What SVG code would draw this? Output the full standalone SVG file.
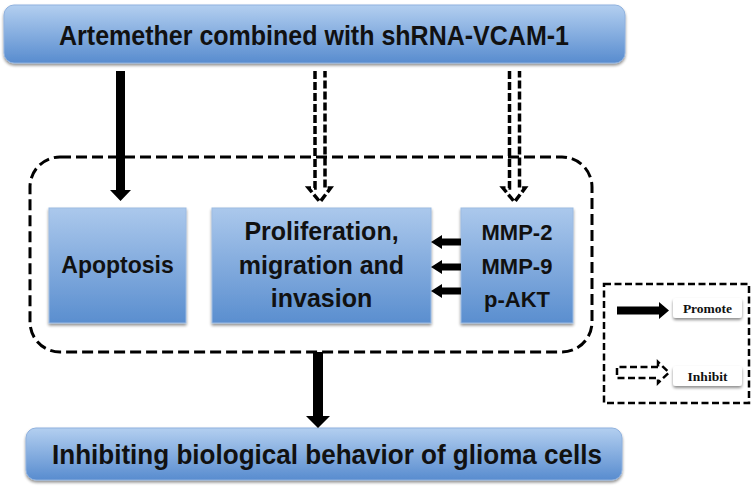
<svg xmlns="http://www.w3.org/2000/svg" width="755" height="488" viewBox="0 0 755 488">
  <defs>
    <linearGradient id="blueGrad" x1="0" y1="0" x2="0" y2="1">
      <stop offset="0" stop-color="#b3cff0"/>
      <stop offset="1" stop-color="#588ccf"/>
    </linearGradient>
    <linearGradient id="boxGrad" x1="0" y1="0" x2="0" y2="1">
      <stop offset="0" stop-color="#abc8ec"/>
      <stop offset="1" stop-color="#5a8ecf"/>
    </linearGradient>
    <filter id="shadow" x="-10%" y="-20%" width="120%" height="150%">
      <feGaussianBlur in="SourceAlpha" stdDeviation="1.5"/>
      <feOffset dx="0" dy="2" result="b"/>
      <feComponentTransfer><feFuncA type="linear" slope="0.45"/></feComponentTransfer>
      <feMerge><feMergeNode/><feMergeNode in="SourceGraphic"/></feMerge>
    </filter>
  </defs>
  <style>
    .big { fill: url(#blueGrad); stroke: #8fb1de; stroke-width: 1; }
    .box { fill: url(#boxGrad); stroke: #9dbbe2; stroke-width: 1; }
    .t { font-family: "Liberation Sans", Arial, sans-serif; font-weight: bold; fill: #111; text-anchor: middle; }
    .lt { font-family: "Liberation Serif", "Times New Roman", serif; font-weight: bold; fill: #111; text-anchor: middle; font-size: 13.5px; }
    .solid { fill: #000; }
    .dash { fill: none; stroke: #000; stroke-width: 3.5; stroke-dasharray: 8 3; }
    .frame { fill: none; stroke: #000; stroke-width: 3; stroke-dasharray: 11 5; }
    .lframe { fill: none; stroke: #000; stroke-width: 2.5; stroke-dasharray: 7 3.5; }
    .label { fill: #fff; }
  </style>

  <g id="frame-group">
    <rect class="frame" x="30" y="157" width="562" height="195" rx="30" ry="30"/>
  </g>

  <g id="top-node">
    <rect class="big" x="4" y="5" width="621" height="58" rx="10" ry="10" filter="url(#shadow)"/>
    <text class="t" x="314" y="45" font-size="27" textLength="510" lengthAdjust="spacingAndGlyphs">Artemether combined with shRNA-VCAM-1</text>
  </g>

  <g id="apoptosis">
    <rect class="box" x="49" y="208" width="137" height="115" filter="url(#shadow)"/>
    <text class="t" x="117.5" y="273" font-size="23">Apoptosis</text>
  </g>

  <g id="proliferation">
    <rect class="box" x="212" y="208" width="219" height="115" filter="url(#shadow)"/>
    <text class="t" x="321.5" y="240" font-size="25">Proliferation,</text>
    <text class="t" x="321.5" y="274" font-size="25">migration and</text>
    <text class="t" x="321.5" y="307" font-size="25">invasion</text>
  </g>

  <g id="mmp">
    <rect class="box" x="461" y="208" width="112" height="115" filter="url(#shadow)"/>
    <text class="t" x="517" y="240" font-size="22">MMP-2</text>
    <text class="t" x="517" y="274" font-size="22">MMP-9</text>
    <text class="t" x="517" y="307" font-size="22">p-AKT</text>
  </g>

  <g id="bottom-node">
    <rect class="big" x="26" y="428" width="596" height="52" rx="10" ry="10" filter="url(#shadow)"/>
    <text class="t" x="327" y="464" font-size="28" textLength="550" lengthAdjust="spacingAndGlyphs">Inhibiting biological behavior of glioma cells</text>
  </g>

  <g id="connectors">
    <!-- solid arrow to Apoptosis -->
    <path class="solid" d="M116,71 H125 V190 H131 L120.5,201 L110,190 H116 Z"/>
    <!-- dashed inhibit arrows -->
    <path class="dash" d="M315,71 V188 H308.5 L320,202 L330.5,188 H325 V71"/>
    <path class="dash" d="M509.5,71 V188 H503 L514.5,202 L525,188 H519.5 V71"/>
    <!-- MMP to proliferation arrows -->
    <path class="solid" d="M461,238.5 H442 V235 L431,242 L442,249 V245.5 H461 Z"/>
    <path class="solid" d="M461,263.5 H442 V260 L431,267 L442,274 V270.5 H461 Z"/>
    <path class="solid" d="M461,287.5 H442 V284 L431,291 L442,298 V294.5 H461 Z"/>
    <!-- bottom arrow -->
    <path class="solid" d="M313,352 H323 V416 H330 L318,428 L306,416 H313 Z"/>
  </g>

  <g id="legend">
    <rect class="lframe" x="604" y="284" width="145" height="119"/>
    <path class="solid" d="M617,306.5 H659 V302 L669,310.5 L659,319 V314.5 H617 Z"/>
    <rect class="label" x="673" y="298" width="69" height="20" rx="3" filter="url(#shadow)"/>
    <text class="lt" x="707.5" y="312.5">Promote</text>
    <path class="lframe" d="M658,367 H617 V378 H658 V383 L669,372.5 L658,362 Z"/>
    <rect class="label" x="673" y="366" width="69" height="20" rx="3" filter="url(#shadow)"/>
    <text class="lt" x="707.5" y="380.5">Inhibit</text>
  </g>
</svg>
